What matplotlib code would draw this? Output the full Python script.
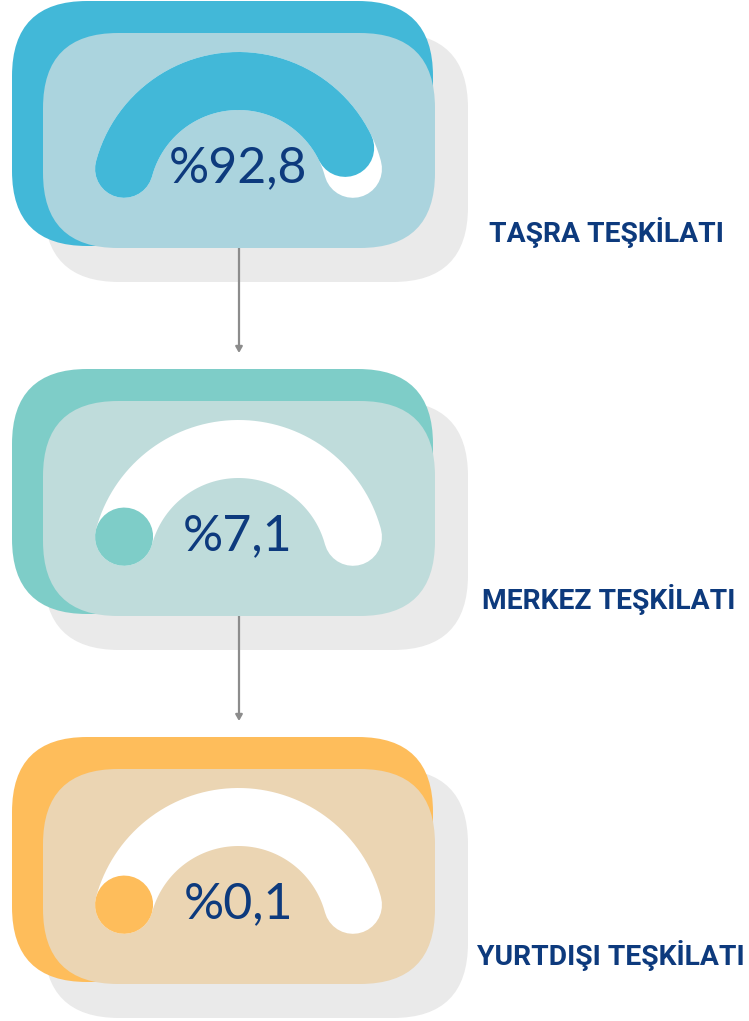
import numpy as np
import matplotlib
matplotlib.use("Agg")
import matplotlib.pyplot as plt
from matplotlib.patches import FancyBboxPatch

# data
labels = ["TAŞRA TEŞKİLATI", "MERKEZ TEŞKİLATI", "YURTDIŞI TEŞKİLATI"]
values = [92.8, 7.1, 0.1]
value_text = ["%92,8", "%7,1", "%0,1"]
# how far each gauge is actually filled in the picture (middle one shows only the start cap)
gauge_fill = [92.8, 0.1, 0.1]

back_colors = ["#42B8D8", "#7ECDC8", "#FEBD5B"]
front_colors = ["#ABD4DE", "#BFDCDB", "#EBD5B3"]
shadow_color = "#EAEAEA"
navy = "#0D3A7D"

fig = plt.figure(figsize=(7.49, 10.21), dpi=100)
ax = fig.add_axes([0, 0, 1, 1])
ax.set_xlim(0, 749)
ax.set_ylim(1021, 0)
ax.axis("off")

panel_top = [1, 369, 737]
label_base = [242, 609, 965]
label_x = [606, 609, 611]

R = 118.5          # gauge radius (centre line)
band = 58          # gauge thickness in px
band_pt = band * 72 / 100.0
a0, a1 = 165.0, 15.0   # gauge runs from a0 to a1 degrees


def rbox(x, y, w, h, color, z, r=75):
    p = FancyBboxPatch((x, y), w, h, boxstyle="round,pad=0,rounding_size=%d" % r,
                       fc=color, ec="none", zorder=z)
    ax.add_patch(p)


for i in range(3):
    top = panel_top[i]
    # shadow, coloured back card, light front card
    rbox(44, top + 32, 424, 249, shadow_color, 1)
    rbox(12, top, 421, 245, back_colors[i], 3)
    rbox(43, top + 32, 392, 215, front_colors[i], 4)

    # gauge
    cx, cy = 238.5, top + 198.5
    th = np.radians(np.linspace(a0, a1, 200))
    ax.plot(cx + R * np.cos(th), cy - R * np.sin(th), color="white",
            lw=band_pt, solid_capstyle="round", zorder=5)
    end = a0 - (a0 - a1) * gauge_fill[i] / 100.0
    th = np.radians(np.linspace(a0, end, 200))
    ax.plot(cx + R * np.cos(th), cy - R * np.sin(th), color=back_colors[i],
            lw=band_pt, solid_capstyle="round", zorder=6)

    ax.text(238, top + 181, value_text[i], ha="center", va="baseline",
            fontsize=36, family="Lato", color=navy, zorder=7)

    ax.text(label_x[i], label_base[i], labels[i], ha="center", va="baseline",
            fontsize=20.3, family="Roboto", fontweight="bold", color=navy, zorder=7)

# arrows between the cards
for i in range(2):
    y0 = panel_top[i] + 247
    ax.annotate("", xy=(239, y0 + 105), xytext=(239, y0),
                arrowprops=dict(arrowstyle="-|>,head_length=0.35,head_width=0.2",
                                color="#8C8C8C", lw=1.6, shrinkA=0, shrinkB=0),
                zorder=2)

fig.savefig("out.png", dpi=100)
